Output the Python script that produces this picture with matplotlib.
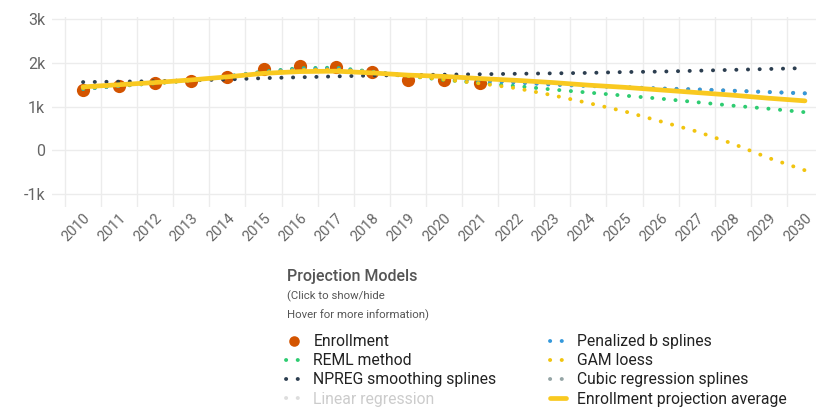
import numpy as np
import matplotlib
matplotlib.use("Agg")
import matplotlib.pyplot as plt
from matplotlib.lines import Line2D

plt.rcParams['font.family'] = ['Roboto', 'DejaVu Sans']

years = list(range(2010, 2031))
year_labels = [str(y) for y in years]

# actual enrollment (2010-2021)
enrollment = [1390, 1460, 1530, 1590, 1680, 1870, 1920, 1910, 1790, 1600, 1600, 1540]

# projection models (2010-2030)
reml = [1400, 1470, 1530, 1600, 1690, 1800, 1880, 1890, 1800, 1700, 1610, 1540,
        1470, 1390, 1320, 1250, 1180, 1100, 1020, 950, 870]
npreg = [1560, 1570, 1580, 1600, 1620, 1650, 1670, 1690, 1710, 1720, 1730, 1740,
         1750, 1760, 1770, 1790, 1800, 1820, 1840, 1860, 1880]
penalized = [1410, 1470, 1540, 1600, 1690, 1790, 1860, 1870, 1790, 1710, 1640, 1590,
             1550, 1500, 1470, 1440, 1410, 1390, 1360, 1330, 1300]
gam_loess = [1420, 1480, 1540, 1600, 1680, 1780, 1840, 1850, 1790, 1700, 1620, 1530,
             1420, 1260, 1080, 890, 660, 430, 150, -180, -460]
cubic = [1410, 1475, 1540, 1605, 1690, 1790, 1855, 1865, 1790, 1710, 1645, 1595,
         1555, 1510, 1475, 1445, 1415, 1395, 1365, 1335, 1305]
average = [1450, 1500, 1550, 1610, 1680, 1760, 1800, 1810, 1770, 1720, 1690, 1640,
           1600, 1550, 1490, 1440, 1380, 1320, 1260, 1190, 1130]

series = [
    ("REML method", reml, "#2ecc71"),
    ("NPREG smoothing splines", npreg, "#2c3e50"),
    ("Penalized b splines", penalized, "#3498db"),
    ("GAM loess", gam_loess, "#f1c40f"),
    ("Cubic regression splines", cubic, "#95a5a6"),
]

fig = plt.figure(figsize=(8.16, 4.07), dpi=100)
W, H = 816, 407
ax = fig.add_axes([52 / W, (H - 207) / H, (823 - 52) / W, 190 / H])

x = np.arange(len(years))
dots = (0, (0.05, 2.95))

h_enr, = ax.plot(x[:len(enrollment)], enrollment, 'o', color="#d35400",
                 markersize=9.5, markeredgewidth=0, label="Enrollment", zorder=2)
handles = {"Enrollment": h_enr}
for name, vals, col in series:
    # cubic splines sit under the penalized b splines, as in the source
    z = 2.9 if name == "Cubic regression splines" else 3
    h, = ax.plot(x, vals, linestyle=dots, lw=2.8, color=col,
                 dash_capstyle='round', label=name, zorder=z)
    handles[name] = h
h_avg, = ax.plot(x, average, '-', lw=3.4, color="#f9c920",
                 solid_capstyle='round', label="Enrollment projection average", zorder=4)
handles["Enrollment projection average"] = h_avg

ax.set_xlim(-0.86, 20.5)
ax.set_ylim(-1300, 3050)
ax.set_yticks([-1000, 0, 1000, 2000, 3000])
ax.set_yticklabels(["-1k", "0", "1k", "2k", "3k"])
ax.set_xticks(x)
ax.set_xticklabels(year_labels, rotation=45, ha='right', rotation_mode='anchor')
ax.set_xticks(np.arange(-0.5, 21, 1), minor=True)
ax.tick_params(axis='x', which='both', length=0, pad=3, labelsize=10.5, labelcolor="#666666")
ax.tick_params(axis='y', length=0, pad=5, labelsize=11.5, labelcolor="#666666")
ax.grid(axis='y', which='major', color="#ececec", lw=1)
ax.grid(axis='x', which='minor', color="#ececec", lw=1)
for s in ax.spines.values():
    s.set_visible(False)
ax.set_axisbelow(True)

# legend block
fig.text(287 / W, 1 - 276 / H, "Projection Models", fontsize=11.5, color="#555555",
         fontweight='medium', va='center', ha='left')
fig.text(287 / W, 1 - 296 / H, "(Click to show/hide", fontsize=8.2, color="#555555",
         va='center', ha='left')
fig.text(287 / W, 1 - 315 / H, "Hover for more information)", fontsize=8.2, color="#555555",
         va='center', ha='left')

linear_proxy = Line2D([], [], linestyle=dots, lw=2.8, color="#dddddd",
                      dash_capstyle='round')
order = ["Enrollment", "REML method", "NPREG smoothing splines", "Linear regression",
         "Penalized b splines", "GAM loess", "Cubic regression splines",
         "Enrollment projection average"]
hl = [handles.get(n, linear_proxy) for n in order]
leg = fig.legend(hl, order, loc='upper left', bbox_to_anchor=(286 / W, 1 - 334 / H),
                 ncol=2, frameon=False, fontsize=11.3, borderpad=0, borderaxespad=0,
                 handlelength=1.0, handletextpad=0.75, columnspacing=3.4,
                 labelspacing=0.27, markerscale=0.8)
for t, n in zip(leg.get_texts(), order):
    t.set_color("#cccccc" if n == "Linear regression" else "#222222")

fig.savefig("out.png", dpi=100)
